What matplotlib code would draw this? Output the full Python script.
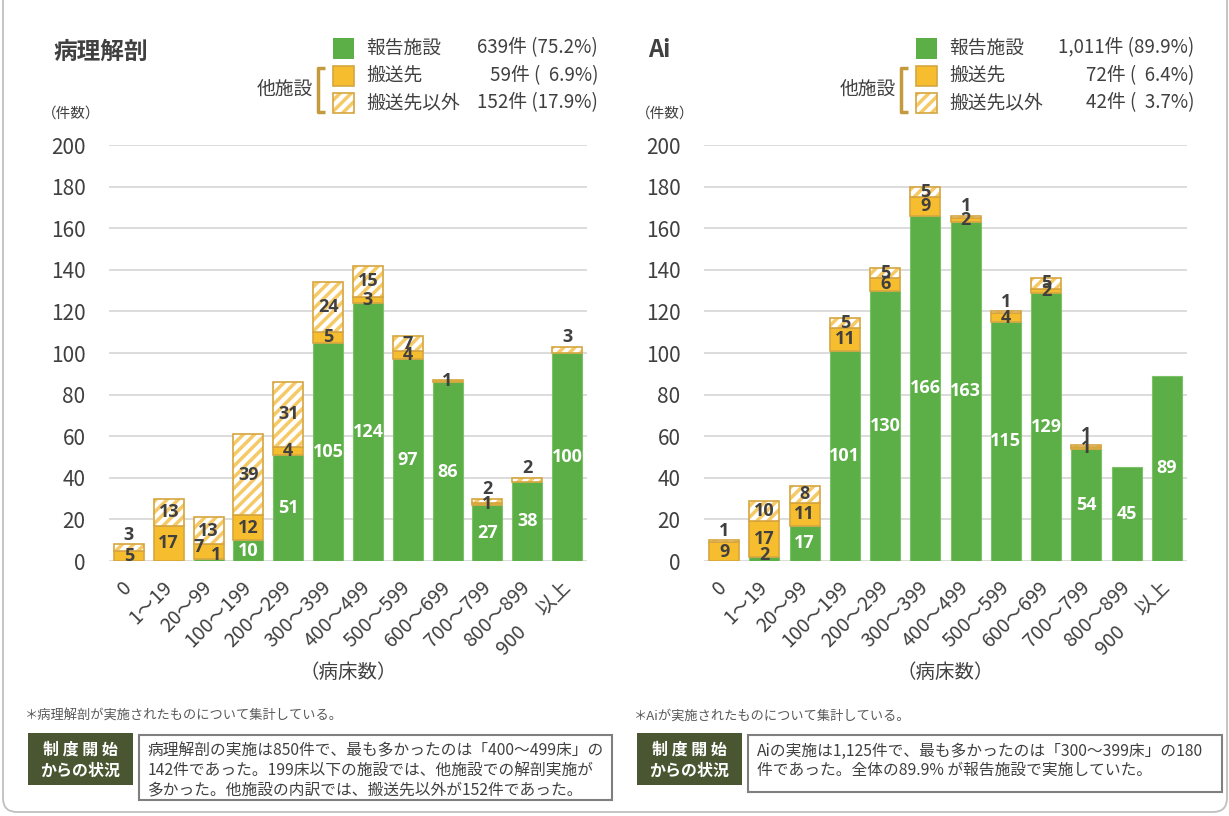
import matplotlib
matplotlib.use("Agg")
import matplotlib.pyplot as plt
from matplotlib.patches import Rectangle, FancyBboxPatch

plt.rcParams['font.family'] = ['Noto Sans CJK JP', 'DejaVu Sans']
plt.rcParams['hatch.linewidth'] = 2.5

categories = ["0", "1～19", "20～99", "100～199", "200～299", "300～399",
              "400～499", "500～599", "600～699", "700～799", "800～899", "900\u3000 以上"]

# 病理解剖
path_own = [0, 0, 1, 10, 51, 105, 124, 97, 86, 27, 38, 100]
path_trans = [5, 17, 7, 12, 4, 5, 3, 4, 1, 1, 0, 0]
path_other = [3, 13, 13, 39, 31, 24, 15, 7, 0, 2, 2, 3]

# Ai
ai_own = [0, 2, 17, 101, 130, 166, 163, 115, 129, 54, 45, 89]
ai_trans = [9, 17, 11, 11, 6, 9, 2, 4, 2, 1, 0, 0]
ai_other = [1, 10, 8, 5, 5, 5, 1, 1, 5, 1, 0, 0]

path_legend = ["639件 (75.2%)", "59件 (  6.9%)", "152件 (17.9%)"]
ai_legend = ["1,011件 (89.9%)", "72件 (  6.4%)", "42件 (  3.7%)"]
legend_names = ["報告施設", "搬送先", "搬送先以外"]

GREEN = "#5CAE46"
ORANGE = "#F6BD2F"
ORANGE_EDGE = "#D6A53F"
HATCH = "#F5C966"
DARK = "#404040"
W, H = 1229, 816

fig = plt.figure(figsize=(12.29, 8.16), dpi=100)


def nonzero(vals, base):
    idx = [i for i, v in enumerate(vals) if v > 0]
    return idx, [vals[i] for i in idx], [base[i] for i in idx]


def draw_panel(ax, own, trans, other):
    x = list(range(len(own)))
    zeros = [0] * len(own)
    bottom2 = [a + b for a, b in zip(own, trans)]

    i, v, b = nonzero(own, zeros)
    ax.bar(i, v, bottom=b, width=0.75, color=GREEN, edgecolor="#7DC168", linewidth=0.8, zorder=2)
    i, v, b = nonzero(trans, own)
    ax.bar(i, v, bottom=b, width=0.75, color=ORANGE, edgecolor=ORANGE_EDGE,
           linewidth=1.2, zorder=2)
    i, v, b = nonzero(other, bottom2)
    ax.bar(i, v, bottom=b, width=0.75, color="white", edgecolor=HATCH,
           hatch="///", linewidth=0, zorder=2)
    ax.bar(i, v, bottom=b, width=0.75, color="none", edgecolor=ORANGE_EDGE,
           linewidth=1.2, zorder=3)

    kw = dict(ha="center", fontsize=13, fontweight="bold", family=["Open Sans", "DejaVu Sans"],
              zorder=5)
    for i in x:
        g, t, o = own[i], trans[i], other[i]
        shift = g > 0 and g < 5 and t < 10
        if g >= 8:
            ax.text(i, g / 2, str(g), color="white", va="center", **kw)
        elif g > 0:
            ax.text(i + (0.2 if shift else 0), max(g / 2, 3), str(g), color=DARK, va="center", **kw)
        if t > 0:
            yy = g + t / 2 + (2 if shift else 0)
            ax.text(i - (0.25 if shift else 0), yy, str(t), color=DARK, va="center", **kw)
        if o >= 5:
            ax.text(i, g + t + o / 2, str(o), color=DARK, va="center", **kw)
        elif o > 0:
            ax.text(i, g + t + o + 0.3, str(o), color=DARK, va="bottom", **kw)

    ax.set_xlim(-0.5, len(own) - 0.5)
    ax.set_ylim(0, 200)
    ax.set_yticks(range(0, 201, 20))
    ax.yaxis.grid(True, color="#D9D9D9", linewidth=1.3)
    ax.set_axisbelow(True)
    for s in ax.spines.values():
        s.set_visible(False)
    ax.tick_params(axis="both", length=0, colors=DARK)
    ax.tick_params(axis="y", labelsize=15, pad=17)
    ax.set_xticks(x)
    ax.set_xticklabels(categories, rotation=45, ha="right", rotation_mode="anchor",
                       va="center", fontsize=14)
    ax.tick_params(axis="x", pad=17)
    ax.patch.set_alpha(0)
    ax.set_xlabel("（病床数）", fontsize=14, color=DARK, va="center")
    ax.xaxis.set_label_coords(0.5, -(673 - 561) / 416)


ax1 = fig.add_axes([109 / W, (H - 561) / H, 478 / W, 416 / H])
draw_panel(ax1, path_own, path_trans, path_other)
ax2 = fig.add_axes([704 / W, (H - 561) / H, 483 / W, 416 / H])
draw_panel(ax2, ai_own, ai_trans, ai_other)

# overlay in pixel coordinates for titles, legends and notes
ov = fig.add_axes([0, 0, 1, 1])
ov.set_xlim(0, W)
ov.set_ylim(H, 0)
ov.axis("off")

ov.add_patch(FancyBboxPatch((3, -30), 1224, 842, boxstyle="round,pad=0,rounding_size=14",
                            facecolor="none", edgecolor="#BFBFBF", linewidth=1.3))

ov.text(53, 52, "病理解剖", fontsize=17, fontweight="bold", color=DARK, va="center")
ov.text(648, 50, "Ai", fontsize=17, fontweight="bold", color=DARK, va="center")
ov.text(42, 114, "（件数）", fontsize=10.5, color=DARK, va="center")
ov.text(636, 114, "（件数）", fontsize=10.5, color=DARK, va="center")


def draw_legend(x0, right, values):
    rows = [48, 76, 103]
    ov.add_patch(Rectangle((x0, 38), 21, 21, facecolor=GREEN, edgecolor="none"))
    ov.add_patch(Rectangle((x0, 66), 21, 20, facecolor=ORANGE, edgecolor=ORANGE_EDGE, linewidth=1.2))
    ov.add_patch(Rectangle((x0, 93), 21, 20, facecolor="white", edgecolor=HATCH, hatch="///", linewidth=0))
    ov.add_patch(Rectangle((x0, 93), 21, 20, facecolor="none", edgecolor=ORANGE_EDGE, linewidth=1.2))
    for y, name, val in zip(rows, legend_names, values):
        ov.text(x0 + 33, y, name, fontsize=13.5, color=DARK, va="center")
        ov.text(right, y, val, fontsize=13.5, color=DARK, va="center", ha="right")
    ov.text(x0 - 20, 89, "他施設", fontsize=13.5, color=DARK, va="center", ha="right")
    ov.plot([x0 - 8, x0 - 15, x0 - 15, x0 - 8], [68, 68, 112, 112], color="#C39A3E",
            linewidth=2.5, solid_capstyle="butt")


draw_legend(333, 598, path_legend)
draw_legend(916, 1194, ai_legend)


def draw_note(x0, note, box_right, box_bottom, lines):
    ov.text(x0 - 3, 716, note, fontsize=9.5, color="#595959", va="center")
    ov.add_patch(Rectangle((x0, 733), 105, 52, facecolor="#4A5631", edgecolor="none"))
    ov.text(x0 + 52, 750, "制 度 開 始", fontsize=11.5, fontweight="bold", color="white",
            ha="center", va="center")
    ov.text(x0 + 52, 771, "からの状況", fontsize=11.5, fontweight="bold", color="white",
            ha="center", va="center")
    bx = x0 + 111
    ov.add_patch(Rectangle((bx, 735), box_right - bx, box_bottom - 735, facecolor="white",
                           edgecolor="#7F7F7F", linewidth=1.5))
    for k, line in enumerate(lines):
        ov.text(bx + 9, 751 + 19.5 * k, line, fontsize=11.3, color=DARK, va="center")


draw_note(28, "＊病理解剖が実施されたものについて集計している。", 612, 800,
          ["病理解剖の実施は850件で、最も多かったのは「400～499床」の",
           "142件であった。199床以下の施設では、他施設での解剖実施が",
           "多かった。他施設の内訳では、搬送先以外が152件であった。"])
draw_note(637, "＊Aiが実施されたものについて集計している。", 1222, 792,
          ["Aiの実施は1,125件で、最も多かったのは「300～399床」の180",
           "件であった。全体の89.9% が報告施設で実施していた。"])

fig.savefig("out.png", dpi=100, facecolor="white")
